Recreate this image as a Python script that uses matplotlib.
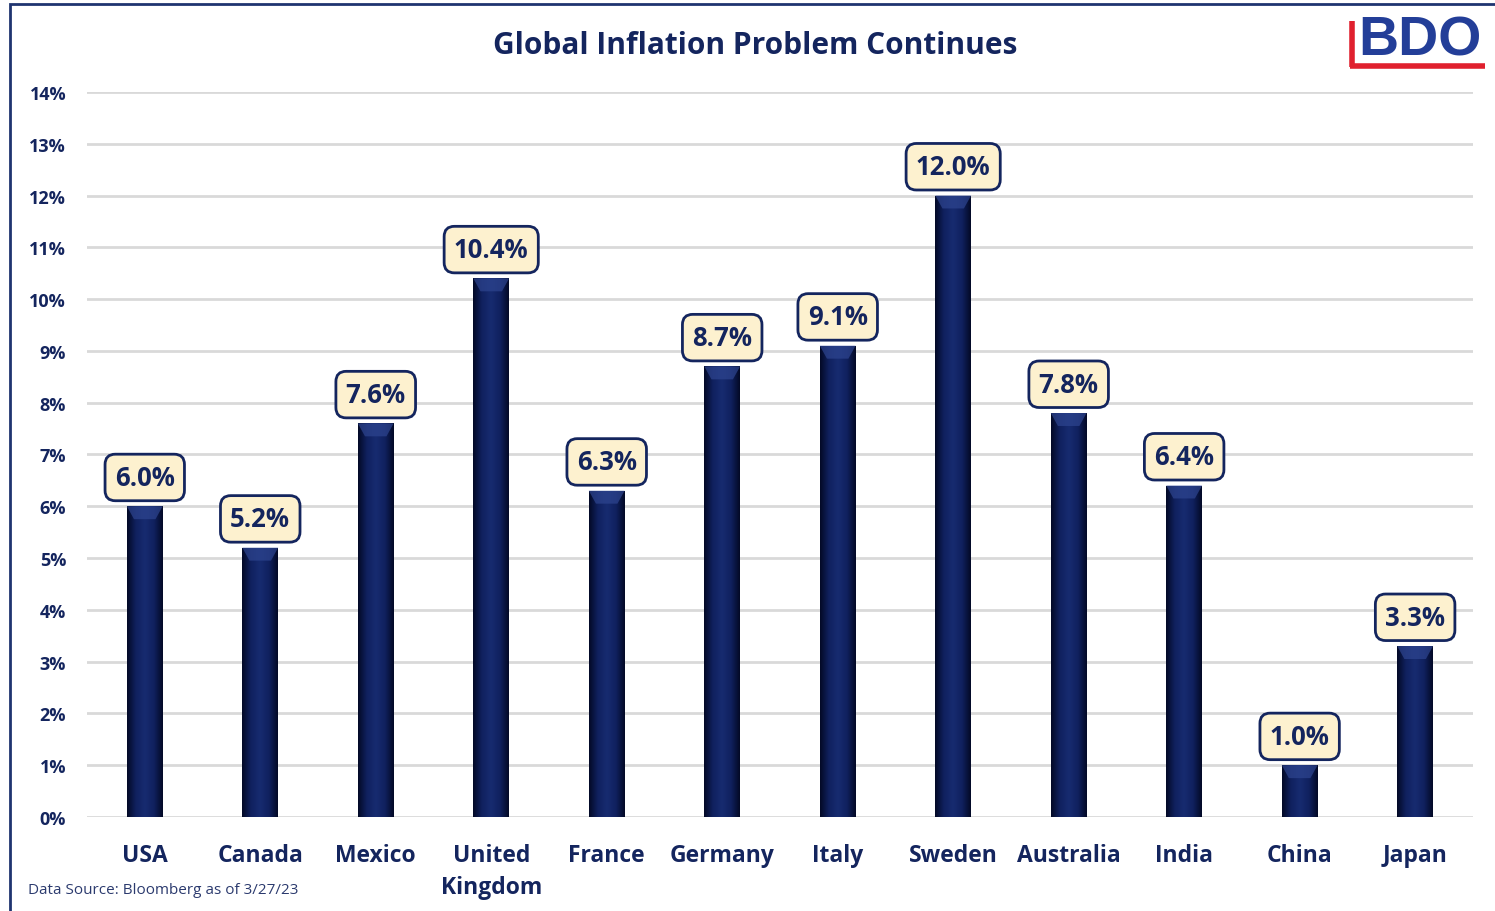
import numpy as np
import matplotlib
matplotlib.use("Agg")
import matplotlib.pyplot as plt
from matplotlib.colors import LinearSegmentedColormap
from matplotlib.patches import Rectangle, Polygon
from matplotlib.ticker import PercentFormatter

plt.rcParams['font.family'] = ['Open Sans', 'DejaVu Sans']

# Year-over-year CPI by country
countries = ["USA", "Canada", "Mexico", "United\nKingdom", "France", "Germany",
             "Italy", "Sweden", "Australia", "India", "China", "Japan"]
inflation = [6.0, 5.2, 7.6, 10.4, 6.3, 8.7, 9.1, 12.0, 7.8, 6.4, 1.0, 3.3]
y_ticks = list(range(0, 15))

navy = "#14255e"
bar_dark = "#030925"
bar_mid = "#10215f"

fig = plt.figure(figsize=(14.95, 9.12), dpi=100)
ax = fig.add_axes([0.0582, 0.1031, 0.927, 0.795])

x = np.arange(len(countries))
width = 0.31
bars = ax.bar(x, inflation, width=width, color=bar_mid, zorder=3)

# horizontal shading on each bar (dark edges, lighter centre)
cmap = LinearSegmentedColormap.from_list("barshade", [bar_dark, bar_mid, "#172b70", bar_mid, bar_dark])
grad = np.linspace(0, 1, 256).reshape(1, -1)
for b in bars:
    x0, w, h = b.get_x(), b.get_width(), b.get_height()
    im = ax.imshow(grad, cmap=cmap, aspect="auto", extent=[x0, x0 + w, 0, h],
                   zorder=4, interpolation="bicubic")
    im.set_clip_path(b)
    # lighter bevel at the top
    bev = 0.25
    ax.add_patch(Polygon([[x0, h], [x0 + w, h], [x0 + w * 0.8, h - bev],
                          [x0 + w * 0.2, h - bev]], closed=True,
                         facecolor="#2e4590", edgecolor="none", alpha=0.7, zorder=5))

for xi, v in zip(x, inflation):
    ax.annotate(f"{v:.1f}%", xy=(xi, v), xytext=(0, 11), textcoords="offset points",
                ha="center", va="bottom", fontsize=18.5, fontweight="bold", color=navy,
                zorder=6,
                bbox=dict(boxstyle="round,pad=0.38,rounding_size=0.4", facecolor="#fdf1cf",
                          edgecolor=navy, linewidth=2))

ax.set_xlim(-0.5, len(countries) - 0.5)
ax.set_ylim(0, 14)
ax.set_yticks(y_ticks)
ax.yaxis.set_major_formatter(PercentFormatter(decimals=0))
ax.set_xticks(x)
ax.set_xticklabels(countries, fontsize=16.5, fontweight="bold", color=navy, linespacing=1.45)
for lbl in ax.get_yticklabels():
    lbl.set_fontsize(13)
    lbl.set_fontweight("bold")
    lbl.set_color(navy)
ax.tick_params(axis="both", length=0)
ax.tick_params(axis="y", pad=15)
ax.tick_params(axis="x", pad=19)
ax.grid(axis="y", color="#d9d9d9", linewidth=2, zorder=0)
for s in ax.spines.values():
    s.set_visible(False)

fig.text(0.505, 0.950, "Global Inflation Problem Continues", ha="center", va="center",
         fontsize=21.5, fontweight="bold", color=navy)
fig.text(0.019, 0.024, "Data Source: Bloomberg as of 3/27/23", ha="left", va="center",
         fontsize=11, color="#2b3a6e")

# frame around the figure
fig.add_artist(Rectangle((0.007, -0.05), 1.1, 1.0445, transform=fig.transFigure,
                         fill=False, edgecolor="#1f3470", linewidth=2))

# logo
fig.add_artist(plt.Line2D([0.9045, 0.9045], [0.925, 0.976], transform=fig.transFigure,
                          color="#e0202e", linewidth=4, solid_capstyle="butt"))
fig.add_artist(plt.Line2D([0.903, 0.993], [0.926, 0.926], transform=fig.transFigure,
                          color="#e0202e", linewidth=4, solid_capstyle="butt"))
fig.text(0.950, 0.954, "BDO", ha="center", va="center", fontsize=40, fontweight="bold",
         color="#233e98", family=["Liberation Sans", "DejaVu Sans"])

fig.savefig("out.png", dpi=100, facecolor="white")
